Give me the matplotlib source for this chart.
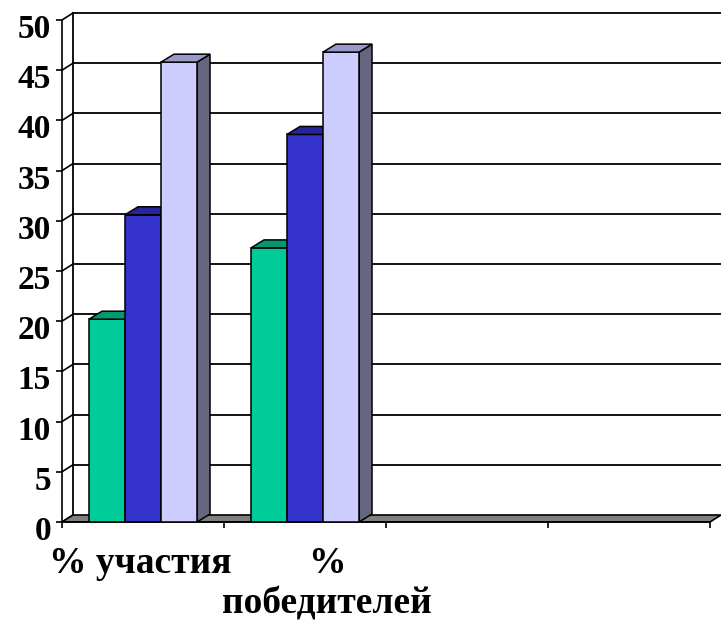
import matplotlib.pyplot as plt
from matplotlib.patches import Polygon
from matplotlib.transforms import ScaledTranslation

# chart data
categories = ['% участия', '%\nпобедителей']
n_slots = 4
green_vals = [20.2, 27.3]
blue_vals = [30.6, 38.6]
lilac_vals = [45.8, 46.8]
y_ticks = list(range(0, 51, 5))

plt.rcParams['font.family'] = ['Liberation Serif', 'DejaVu Serif']
plt.rcParams['font.weight'] = 'bold'

W, H = 721, 624
fig = plt.figure(figsize=(W / 100, H / 100), dpi=100)
ax_l, ax_r, ax_b, ax_t = 62, 710, 522, 20
ax = fig.add_axes([ax_l / W, (H - ax_b) / H, (ax_r - ax_l) / W, (ax_b - ax_t) / H])
ax.set_xlim(0, n_slots)
ax.set_ylim(0, 50)

# pixel -> data unit helpers
ux = n_slots / (ax_r - ax_l)
uy = 50 / (ax_b - ax_t)
wall_dx, wall_dy = 11 * ux, 7 * uy
bar_dx, bar_dy = 13 * ux, 8 * uy

# floor
floor = Polygon([(0, 0), (n_slots, 0), (n_slots + wall_dx, wall_dy), (wall_dx, wall_dy)],
                closed=True, facecolor='#808080', edgecolor='black', lw=1.2,
                zorder=2, clip_on=False)
ax.add_patch(floor)

# back wall gridlines + diagonal connectors
ax.plot([wall_dx, wall_dx], [wall_dy, 50 + wall_dy], color='black', lw=1.3,
        clip_on=False, zorder=1)
for v in y_ticks:
    ax.plot([0, wall_dx], [v, v + wall_dy], color='black', lw=1.2, clip_on=False, zorder=1)
    if v > 0:
        ax.plot([wall_dx, n_slots + wall_dx + 0.1], [v + wall_dy, v + wall_dy],
                color='black', lw=1.3, clip_on=False, zorder=1)

# 3d-ish bars
bw = 36 * ux
series = [(green_vals, '#00CC99', '#009973', '#007A5C'),
          (blue_vals, '#3333CC', '#262699', '#1F1F80'),
          (lilac_vals, '#CCCCFF', '#9999CC', '#666680')]
centres = [0.5 + k for k in range(len(categories))]
z = 3
for i, centre in enumerate(centres):
    for j, (vals, front, top, side) in enumerate(series):
        x0 = centre + (j - 1.5) * bw
        h = vals[i]
        ax.add_patch(Polygon([(x0 + bw, 0), (x0 + bw + bar_dx, bar_dy),
                              (x0 + bw + bar_dx, h + bar_dy), (x0 + bw, h)],
                             closed=True, facecolor=side, edgecolor='black',
                             lw=1.1, zorder=z))
        ax.bar(x0, h, width=bw, align='edge', color=front, edgecolor='black',
               lw=1.1, zorder=z + 1)
        ax.add_patch(Polygon([(x0, h), (x0 + bw, h), (x0 + bw + bar_dx, h + bar_dy),
                              (x0 + bar_dx, h + bar_dy)],
                             closed=True, facecolor=top, edgecolor='black',
                             lw=1.1, zorder=z + 1))
        z += 2

for s in ['top', 'right']:
    ax.spines[s].set_visible(False)
ax.spines['left'].set_linewidth(1.2)
ax.spines['bottom'].set_linewidth(1.2)
ax.spines['bottom'].set_zorder(2.5)

ax.set_yticks(y_ticks)
ax.set_yticklabels([str(v) for v in y_ticks], fontsize=24, fontweight='bold')
ax.tick_params(axis='y', direction='out', length=4, width=1.2, pad=4)
# labels sit a little below their ticks in the original
shift = ScaledTranslation(0, -6 / 100, fig.dpi_scale_trans)
for lab in ax.get_yticklabels():
    lab.set_transform(lab.get_transform() + shift)

ax.set_xticks(range(n_slots + 1))
ax.set_xticklabels([])
ax.tick_params(axis='x', which='major', direction='out', length=4.5, width=1.2)

# category labels (the wrapped one is drawn a bit right of its slot centre)
for centre, label in zip(centres, categories):
    dx = 16 if '\n' in label else -2
    ax.annotate(label, xy=(centre, 0), xycoords=('data', 'axes fraction'),
                xytext=(dx, -17), textcoords='offset points',
                ha='center', va='top', fontsize=27, fontweight='bold',
                linespacing=1.2, annotation_clip=False)

fig.savefig('out.png', dpi=100)
